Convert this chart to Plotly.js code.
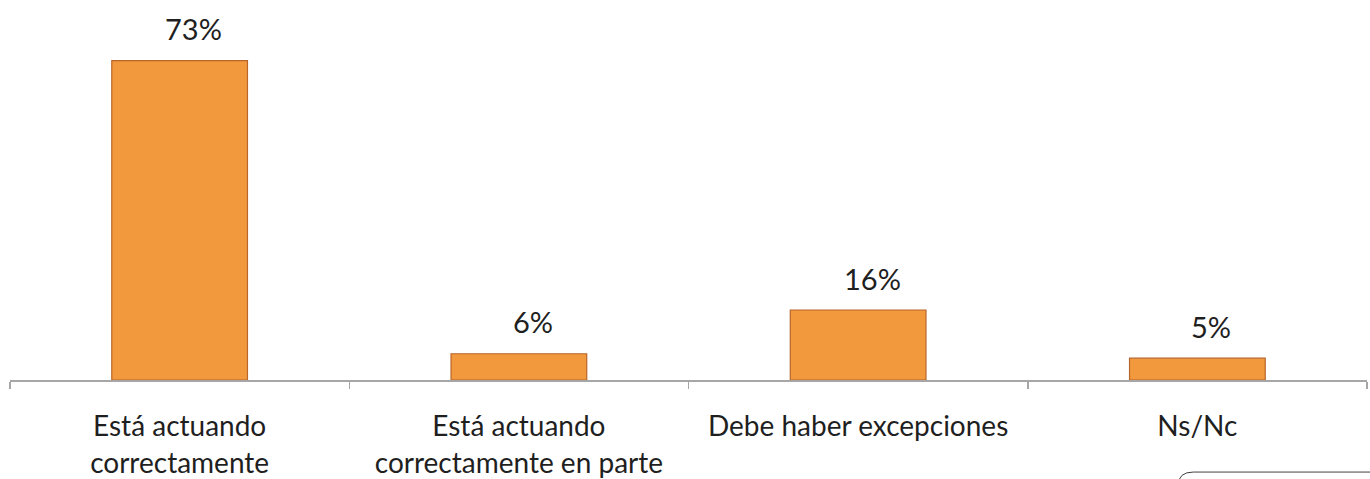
<!DOCTYPE html>
<html>
<head>
<meta charset="utf-8">
<script src="https://cdn.plot.ly/plotly-3.0.1.min.js"></script>
<style>html,body{margin:0;padding:0;background:#fff;}#chart{width:1370px;height:479px;}</style>
</head>
<body>
<div id="chart"></div>
<script>
const categories = ["Está actuando<br>correctamente", "Está actuando<br>correctamente en parte", "Debe haber excepciones", "Ns/Nc"];
const values = [73, 6, 16, 5];
const valueLabels = ["73%", "6%", "16%", "5%"];

const FONT = "Lato, 'Open Sans', sans-serif";

const trace = {
  type: "bar",
  x: categories,
  y: values,
  width: 0.4,
  marker: {color: "#F3993D", line: {color: "#B8652A", width: 1.2}},
  hoverinfo: "none"
};

const annotations = categories.map((c, i) => ({
  x: c, y: values[i], xref: "x", yref: "y",
  text: valueLabels[i], showarrow: false,
  xanchor: "center", yanchor: "middle",
  xshift: 14, yshift: 32,
  font: {family: FONT, size: 29, color: "#1f1f1f"}
}));

const layout = {
  width: 1370, height: 479,
  margin: {l: 10, r: 3, t: 30, b: 99},
  paper_bgcolor: "#ffffff", plot_bgcolor: "#ffffff",
  showlegend: false,
  bargap: 0.6,
  xaxis: {
    type: "category",
    showline: true, linecolor: "#A6A6A6", linewidth: 1.5,
    ticks: "outside", tickson: "boundaries", ticklen: 7, tickcolor: "#A6A6A6", tickwidth: 1.5,
    showgrid: false, zeroline: false,
    tickfont: {family: FONT, size: 28, color: "#1f1f1f"},
    ticklabelstandoff: 21
  },
  yaxis: {
    range: [0, 80], visible: false, showgrid: false, zeroline: false, fixedrange: true
  },
  annotations: annotations,
  shapes: [{
    type: "path", xref: "paper", yref: "paper",
    path: "M 0.861,-0.30 Q 0.861,-0.263 0.872,-0.263 L 1.01,-0.263",
    line: {color: "#404040", width: 1}
  }]
};

Plotly.newPlot("chart", [trace], layout, {displayModeBar: false, staticPlot: true});
</script>
</body>
</html>
